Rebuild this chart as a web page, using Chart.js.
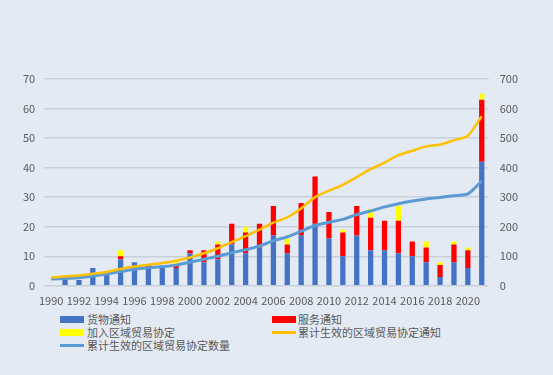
<!DOCTYPE html>
<html>
<head>
<meta charset="utf-8">
<script src="https://cdn.jsdelivr.net/npm/chart.js@4"></script>
<style>
  html, body { margin: 0; padding: 0; background: #e4eaf3; }
  #wrap { position: relative; width: 553px; height: 375px; background: #e4eaf3; overflow: hidden; }
  #box { position: absolute; left: 0; top: 0; width: 553px; height: 307px; }
  .lg { position: absolute; font: 11px "Noto Sans CJK SC", sans-serif; color: #595959; line-height: 13px; white-space: nowrap; }
  .sw { position: absolute; }
</style>
</head>
<body>
<div id="wrap">
  <div id="box"><canvas id="rtaChart"></canvas></div>
  <div class="sw" style="left:60px;top:316px;width:24px;height:7px;background:#4472c4"></div>
  <div class="lg" style="left:87px;top:313px">货物通知</div>
  <div class="sw" style="left:272px;top:316px;width:24px;height:7px;background:#ff0000"></div>
  <div class="lg" style="left:298px;top:313px">服务通知</div>
  <div class="sw" style="left:60px;top:329px;width:24px;height:7px;background:#ffff00"></div>
  <div class="lg" style="left:87px;top:326px">加入区域贸易协定</div>
  <div class="sw" style="left:272px;top:331px;width:24px;height:3px;background:#ffc000"></div>
  <div class="lg" style="left:298px;top:326px">累计生效的区域贸易协定通知</div>
  <div class="sw" style="left:60px;top:344px;width:24px;height:3px;background:#5b9bd5"></div>
  <div class="lg" style="left:87px;top:339px">累计生效的区域贸易协定数量</div>
</div>
<script>
const years = [1990, 1991, 1992, 1993, 1994, 1995, 1996, 1997, 1998, 1999,
  2000, 2001, 2002, 2003, 2004, 2005, 2006, 2007, 2008, 2009,
  2010, 2011, 2012, 2013, 2014, 2015, 2016, 2017, 2018, 2019, 2020, 2021];
const goodsNotices = [0, 2, 2, 6, 4, 9, 8, 6, 6, 6, 11, 8, 9, 14, 11, 13, 17, 11, 17, 21,
  16, 10, 17, 12, 12, 11, 10, 8, 3, 8, 6, 42];
const serviceNotices = [0, 0, 0, 0, 1, 1, 0, 1, 0, 1, 1, 4, 5, 7, 7, 8, 10, 3, 11, 16,
  9, 8, 10, 11, 10, 11, 5, 5, 4, 6, 6, 21];
const accessions = [0, 0, 0, 0, 0, 2, 0, 0, 0, 1, 0, 0, 1, 0, 2, 0, 0, 2, 0, 0,
  0, 1, 0, 3, 0, 5, 0, 2, 1, 1, 1, 2];
const cumulativeNotices = [28, 32, 35, 41, 47, 57, 65, 71, 77, 85, 96, 110, 127, 148, 168, 190,
  214, 232, 262, 300, 322, 342, 368, 395, 417, 442, 457, 472, 478, 493, 508, 574];
const cumulativeRtas = [23, 25, 27, 33, 40, 48, 56, 61, 65, 70, 80, 90, 100, 112, 122, 135,
  152, 166, 185, 204, 215, 225, 241, 253, 267, 278, 287, 294, 299, 305, 311, 354];

const textColor = '#595959';
const tickFont = { family: '"Noto Sans CJK SC", sans-serif', size: 11 };

document.addEventListener('DOMContentLoaded', function() {
  const ctx = document.getElementById('rtaChart');
  new Chart(ctx, {
    type: 'bar',
    data: {
      labels: years.map(String),
      datasets: [
        { type: 'line', label: '累计生效的区域贸易协定通知', data: cumulativeNotices, yAxisID: 'y2',
          borderColor: '#ffc000', borderWidth: 2.5, pointRadius: 0, tension: 0.25, order: 0 },
        { type: 'line', label: '累计生效的区域贸易协定数量', data: cumulativeRtas, yAxisID: 'y2',
          borderColor: '#5b9bd5', borderWidth: 3, pointRadius: 0, tension: 0.25, order: 0 },
        { label: '货物通知', data: goodsNotices, backgroundColor: '#4472c4', stack: 's', order: 1 },
        { label: '服务通知', data: serviceNotices, backgroundColor: '#ff0000', stack: 's', order: 1 },
        { label: '加入区域贸易协定', data: accessions, backgroundColor: '#ffff00', stack: 's', order: 1 }
      ]
    },
    options: {
      responsive: true,
      maintainAspectRatio: false,
      animation: false,
      datasets: { bar: { barPercentage: 0.38, categoryPercentage: 1 } },
      layout: { padding: { top: 79, left: 14, right: 24, bottom: 0 } },
      plugins: { legend: { display: false }, tooltip: { enabled: false } },
      scales: {
        x: {
          stacked: true,
          grid: { display: false },
          border: { display: false },
          ticks: {
            color: textColor, font: tickFont, autoSkip: false, maxRotation: 0, padding: 0,
            callback: function(value, index) {
              return index % 2 === 0 ? years[index] : '';
            }
          }
        },
        y: {
          stacked: true,
          min: 0, max: 70,
          grid: { color: '#c9d0da', lineWidth: 1.5, drawTicks: false },
          border: { display: false },
          ticks: { stepSize: 10, color: textColor, font: tickFont, padding: 9 }
        },
        y2: {
          position: 'right',
          min: 0, max: 700,
          grid: { display: false, drawTicks: false },
          border: { display: false },
          ticks: { stepSize: 100, color: textColor, font: tickFont, padding: 11 }
        }
      }
    }
  });
});
</script>
</body>
</html>
